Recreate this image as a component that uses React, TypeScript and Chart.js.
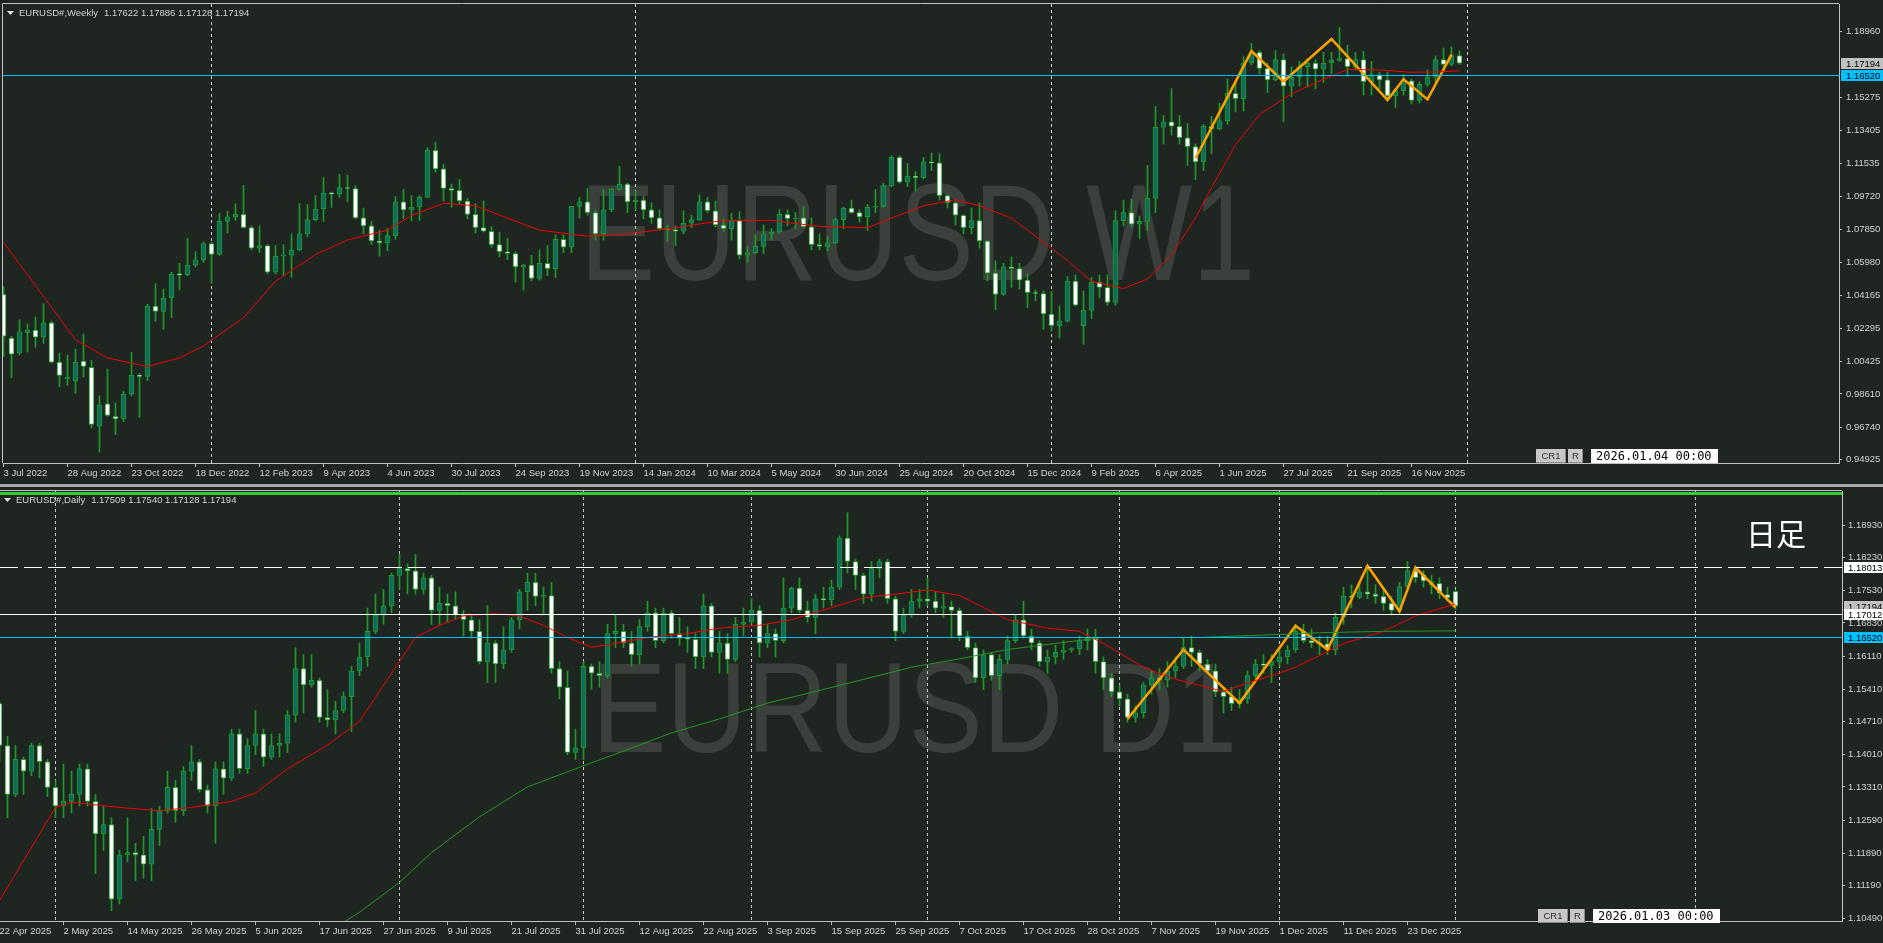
import { useEffect, useRef } from 'react';
import { Chart, registerables } from 'chart.js';

Chart.register(...registerables);

type OHLC = [number, number, number, number];
type Pt = [number, number];

// ================= WEEKLY (W1) : one candle per week, index 0 = 3 Jul 2022 =================
const weekly2022: OHLC[] = [
  [1.0420, 1.0463, 1.0072, 1.0185], [1.0175, 1.0185, 0.9952, 1.0085], [1.0090, 1.0278, 1.0080, 1.0210],
  [1.0205, 1.0255, 1.0096, 1.0220], [1.0220, 1.0294, 1.0123, 1.0180], [1.0180, 1.0368, 1.0145, 1.0260],
  [1.0260, 1.0270, 1.0035, 1.0040], [1.0040, 1.0090, 0.9900, 0.9965], [0.9945, 1.0080, 0.9910, 0.9955],
  [0.9935, 1.0113, 0.9865, 1.0040], [1.0045, 1.0198, 0.9956, 1.0015], [1.0010, 1.0050, 0.9670, 0.9690],
  [0.9680, 0.9850, 0.9535, 0.9800], [0.9805, 0.9999, 0.9735, 0.9740], [0.9735, 0.9810, 0.9632, 0.9720],
  [0.9720, 0.9875, 0.9705, 0.9860], [0.9860, 1.0094, 0.9850, 0.9965], [0.9965, 0.9976, 0.9730, 0.9960],
  [0.9960, 1.0365, 0.9935, 1.0355], [1.0355, 1.0480, 1.0270, 1.0325], [1.0325, 1.0450, 1.0225, 1.0400],
  [1.0400, 1.0545, 1.0290, 1.0535], [1.0535, 1.0595, 1.0445, 1.0530], [1.0530, 1.0735, 1.0525, 1.0585],
  [1.0585, 1.0660, 1.0575, 1.0615], [1.0615, 1.0715, 1.0600, 1.0705],
];
const weekly2023: OHLC[] = [
  [1.0705, 1.0713, 1.0483, 1.0645], [1.0645, 1.0875, 1.0640, 1.0830], [1.0830, 1.0887, 1.0765, 1.0855],
  [1.0855, 1.0929, 1.0835, 1.0870], [1.0870, 1.1033, 1.0793, 1.0795], [1.0795, 1.0805, 1.0670, 1.0680],
  [1.0680, 1.0805, 1.0655, 1.0695], [1.0695, 1.0700, 1.0535, 1.0545], [1.0545, 1.0695, 1.0535, 1.0635],
  [1.0635, 1.0700, 1.0525, 1.0640], [1.0640, 1.0760, 1.0515, 1.0670], [1.0670, 1.0930, 1.0665, 1.0760],
  [1.0760, 1.0925, 1.0745, 1.0840], [1.0840, 1.0975, 1.0835, 1.0900], [1.0900, 1.1075, 1.0830, 1.0990],
  [1.0990, 1.0995, 1.0910, 1.0985], [1.0985, 1.1095, 1.0965, 1.1020], [1.1020, 1.1090, 1.0940, 1.1015],
  [1.1015, 1.1030, 1.0845, 1.0850], [1.0850, 1.0905, 1.0760, 1.0805], [1.0805, 1.0830, 1.0700, 1.0720],
  [1.0720, 1.0780, 1.0635, 1.0710], [1.0710, 1.0790, 1.0665, 1.0750], [1.0750, 1.0970, 1.0730, 1.0940],
  [1.0940, 1.1010, 1.0845, 1.0895], [1.0895, 1.0975, 1.0835, 1.0910], [1.0910, 1.0975, 1.0835, 1.0965],
  [1.0965, 1.1245, 1.0965, 1.1230], [1.1230, 1.1275, 1.1105, 1.1125], [1.1125, 1.1150, 1.0945, 1.1015],
  [1.1015, 1.1040, 1.0910, 1.1005], [1.1005, 1.1065, 1.0925, 1.0945], [1.0945, 1.0960, 1.0845, 1.0870],
  [1.0870, 1.0930, 1.0765, 1.0795], [1.0795, 1.0945, 1.0770, 1.0775], [1.0775, 1.0800, 1.0685, 1.0700],
  [1.0700, 1.0770, 1.0630, 1.0660], [1.0660, 1.0735, 1.0615, 1.0650], [1.0650, 1.0660, 1.0490, 1.0575],
  [1.0575, 1.0590, 1.0445, 1.0585], [1.0585, 1.0640, 1.0495, 1.0510], [1.0510, 1.0670, 1.0500, 1.0595],
  [1.0595, 1.0695, 1.0525, 1.0565], [1.0565, 1.0755, 1.0515, 1.0730], [1.0730, 1.0755, 1.0655, 1.0685],
  [1.0685, 1.0915, 1.0655, 1.0915], [1.0915, 1.0965, 1.0850, 1.0940], [1.0940, 1.1015, 1.0865, 1.0880],
  [1.0880, 1.0895, 1.0725, 1.0760], [1.0760, 1.1010, 1.0725, 1.0895], [1.0895, 1.1015, 1.0885, 1.1010],
  [1.1010, 1.1140, 1.1005, 1.1040], [1.1040, 1.1045, 1.0880, 1.0940],
];
const weekly2024: OHLC[] = [
  [1.0940, 1.1000, 1.0895, 1.0950], [1.0950, 1.0970, 1.0845, 1.0895], [1.0895, 1.0935, 1.0820, 1.0850],
  [1.0850, 1.0895, 1.0780, 1.0790], [1.0790, 1.0810, 1.0720, 1.0785], [1.0785, 1.0805, 1.0695, 1.0775],
  [1.0775, 1.0890, 1.0760, 1.0820], [1.0820, 1.0865, 1.0795, 1.0840], [1.0840, 1.0980, 1.0835, 1.0940],
  [1.0940, 1.0965, 1.0880, 1.0890], [1.0890, 1.0945, 1.0800, 1.0810], [1.0810, 1.0845, 1.0775, 1.0790],
  [1.0790, 1.0875, 1.0725, 1.0835], [1.0835, 1.0885, 1.0620, 1.0640], [1.0640, 1.0690, 1.0600, 1.0655],
  [1.0655, 1.0755, 1.0650, 1.0690], [1.0690, 1.0810, 1.0650, 1.0760], [1.0760, 1.0790, 1.0725, 1.0770],
  [1.0770, 1.0895, 1.0765, 1.0870], [1.0870, 1.0895, 1.0805, 1.0845], [1.0845, 1.0880, 1.0790, 1.0850],
  [1.0850, 1.0915, 1.0795, 1.0800], [1.0800, 1.0850, 1.0670, 1.0700], [1.0700, 1.0760, 1.0670, 1.0690],
  [1.0690, 1.0745, 1.0665, 1.0710], [1.0710, 1.0845, 1.0705, 1.0840], [1.0840, 1.0910, 1.0790, 1.0905],
  [1.0905, 1.0950, 1.0875, 1.0880], [1.0880, 1.0895, 1.0825, 1.0855], [1.0855, 1.0925, 1.0780, 1.0910],
  [1.0910, 1.1010, 1.0880, 1.0915], [1.0915, 1.1045, 1.0910, 1.1030], [1.1030, 1.1200, 1.1025, 1.1190],
  [1.1190, 1.1200, 1.1045, 1.1050], [1.1050, 1.1155, 1.1025, 1.1085], [1.1085, 1.1110, 1.1000, 1.1075],
  [1.1075, 1.1190, 1.1070, 1.1165], [1.1165, 1.1215, 1.1115, 1.1160], [1.1160, 1.1210, 1.0950, 1.0975],
  [1.0975, 1.0980, 1.0905, 1.0935], [1.0935, 1.0940, 1.0810, 1.0865], [1.0865, 1.0870, 1.0760, 1.0795],
  [1.0795, 1.0905, 1.0760, 1.0835], [1.0835, 1.0935, 1.0680, 1.0720], [1.0720, 1.0725, 1.0495, 1.0540],
  [1.0540, 1.0610, 1.0335, 1.0420], [1.0420, 1.0595, 1.0415, 1.0575], [1.0575, 1.0630, 1.0460, 1.0565],
  [1.0565, 1.0595, 1.0450, 1.0500], [1.0500, 1.0535, 1.0345, 1.0430], [1.0430, 1.0445, 1.0385, 1.0425],
  [1.0425, 1.0440, 1.0225, 1.0310],
];
const weekly2025: OHLC[] = [
  [1.0310, 1.0435, 1.0215, 1.0245], [1.0245, 1.0355, 1.0175, 1.0270], [1.0270, 1.0520, 1.0265, 1.0495],
  [1.0495, 1.0530, 1.0355, 1.0360], [1.0245, 1.0440, 1.0140, 1.0330], [1.0330, 1.0515, 1.0285, 1.0490],
  [1.0490, 1.0530, 1.0400, 1.0460], [1.0460, 1.0530, 1.0360, 1.0375], [1.0375, 1.0890, 1.0360, 1.0835],
  [1.0835, 1.0950, 1.0805, 1.0880], [1.0880, 1.0955, 1.0800, 1.0815], [1.0815, 1.0860, 1.0735, 1.0830],
  [1.0830, 1.1145, 1.0780, 1.0960], [1.0960, 1.1475, 1.0880, 1.1360], [1.1360, 1.1425, 1.1265, 1.1390],
  [1.1390, 1.1575, 1.1315, 1.1365], [1.1365, 1.1425, 1.1265, 1.1300], [1.1300, 1.1380, 1.1145, 1.1250],
  [1.1250, 1.1265, 1.1065, 1.1165], [1.1165, 1.1375, 1.1115, 1.1365], [1.1365, 1.1420, 1.1210, 1.1350],
  [1.1350, 1.1495, 1.1345, 1.1395], [1.1395, 1.1630, 1.1375, 1.1550], [1.1550, 1.1615, 1.1445, 1.1520],
  [1.1520, 1.1755, 1.1450, 1.1720], [1.1720, 1.1830, 1.1710, 1.1780], [1.1780, 1.1790, 1.1660, 1.1690],
  [1.1690, 1.1720, 1.1555, 1.1625], [1.1625, 1.1790, 1.1620, 1.1740], [1.1740, 1.1770, 1.1390, 1.1590],
  [1.1590, 1.1700, 1.1530, 1.1640], [1.1640, 1.1730, 1.1590, 1.1700], [1.1700, 1.1745, 1.1585, 1.1720],
  [1.1720, 1.1740, 1.1575, 1.1685], [1.1685, 1.1780, 1.1610, 1.1720], [1.1720, 1.1780, 1.1660, 1.1735],
  [1.1735, 1.1920, 1.1730, 1.1745], [1.1745, 1.1820, 1.1645, 1.1700], [1.1700, 1.1780, 1.1680, 1.1740],
  [1.1740, 1.1785, 1.1540, 1.1615], [1.1615, 1.1730, 1.1540, 1.1655], [1.1655, 1.1670, 1.1575, 1.1625],
  [1.1625, 1.1670, 1.1525, 1.1535], [1.1535, 1.1570, 1.1470, 1.1565], [1.1565, 1.1655, 1.1540, 1.1620],
  [1.1620, 1.1630, 1.1490, 1.1510], [1.1510, 1.1615, 1.1495, 1.1600], [1.1600, 1.1680, 1.1590, 1.1640],
  [1.1640, 1.1760, 1.1615, 1.1740], [1.1740, 1.1805, 1.1700, 1.1712], [1.1712, 1.1812, 1.1705, 1.1762],
  [1.17622, 1.17886, 1.17128, 1.17194],
];
const weeklyTickLabels = [
  '3 Jul 2022', '28 Aug 2022', '23 Oct 2022', '18 Dec 2022', '12 Feb 2023', '9 Apr 2023', '4 Jun 2023',
  '30 Jul 2023', '24 Sep 2023', '19 Nov 2023', '14 Jan 2024', '10 Mar 2024', '5 May 2024', '30 Jun 2024',
  '25 Aug 2024', '20 Oct 2024', '15 Dec 2024', '9 Feb 2025', '6 Apr 2025', '1 Jun 2025', '27 Jul 2025',
  '21 Sep 2025', '16 Nov 2025',
];
const weeklyYTicks = [0.94925, 0.96740, 0.98610, 1.00425, 1.02295, 1.04165, 1.05980, 1.07850, 1.09720,
  1.11535, 1.13405, 1.15275, 1.18960];
const weeklySeparators = [26, 79, 131, 183];
const weeklyMA: Pt[] = [
  [0, 1.0713], [9, 1.0165], [13, 1.0063], [18, 1.0015], [22, 1.0063], [25, 1.0131], [30, 1.0289],
  [34, 1.0494], [39, 1.0644], [43, 1.0726], [48, 1.0781], [51, 1.0863], [55, 1.0932], [59, 1.0918],
  [63, 1.0849], [67, 1.0781], [73, 1.0747], [78, 1.0760], [84, 1.0795], [90, 1.0836], [96, 1.0836],
  [102, 1.0802], [108, 1.0795], [111, 1.0849], [115, 1.0918], [119, 1.0952], [122, 1.0918], [126, 1.0849],
  [129, 1.0747], [133, 1.0610], [136, 1.0494], [140, 1.0453], [143, 1.0507], [146, 1.0644], [149, 1.0849],
  [151, 1.1020], [154, 1.1260], [157, 1.1431], [161, 1.1547], [165, 1.1629], [168, 1.1684], [172, 1.1681],
  [176, 1.1668], [179, 1.1670], [182, 1.1676],
];
const weeklyZigzag: Pt[] = [
  [149, 1.1185], [156, 1.1787], [160, 1.1616], [166, 1.1855], [173, 1.1512], [175, 1.1629],
  [178, 1.1516], [181, 1.1767],
];
const weeklyHeaderName = 'EURUSD#,Weekly';
const weeklyHeaderOHLC = '1.17622 1.17886 1.17128 1.17194';

// ================= DAILY (D1) : index 0 = 2 May 2025 =================
const dailyApr: OHLC[] = [
  [1.1510, 1.1515, 1.1385, 1.1420], [1.1420, 1.1440, 1.1265, 1.1315], [1.1315, 1.1420, 1.1310, 1.1390],
  [1.1390, 1.1395, 1.1315, 1.1365], [1.1365, 1.1425, 1.1355, 1.1420], [1.1420, 1.1425, 1.1350, 1.1385],
  [1.1385, 1.1390, 1.1310, 1.1330],
];
const dailyMay: OHLC[] = [
  [1.1330, 1.1345, 1.1265, 1.1290], [1.1290, 1.1380, 1.1265, 1.1300], [1.1300, 1.1365, 1.1275, 1.1315],
  [1.1315, 1.1380, 1.1290, 1.1370], [1.1370, 1.1380, 1.1290, 1.1300], [1.1300, 1.1315, 1.1145, 1.1230],
  [1.1230, 1.1290, 1.1195, 1.1250], [1.1250, 1.1265, 1.1065, 1.1090], [1.1090, 1.1195, 1.1080, 1.1185],
  [1.1185, 1.1265, 1.1170, 1.1190], [1.1190, 1.1210, 1.1130, 1.1185], [1.1185, 1.1225, 1.1135, 1.1165],
  [1.1165, 1.1285, 1.1130, 1.1240], [1.1240, 1.1290, 1.1205, 1.1280], [1.1280, 1.1365, 1.1275, 1.1330],
  [1.1330, 1.1345, 1.1255, 1.1280], [1.1280, 1.1375, 1.1270, 1.1365], [1.1365, 1.1420, 1.1345, 1.1385],
  [1.1385, 1.1390, 1.1320, 1.1325], [1.1325, 1.1335, 1.1275, 1.1290], [1.1290, 1.1385, 1.1210, 1.1370],
  [1.1370, 1.1385, 1.1315, 1.1350],
];
const dailyJun: OHLC[] = [
  [1.1350, 1.1455, 1.1345, 1.1445], [1.1445, 1.1455, 1.1360, 1.1370], [1.1370, 1.1435, 1.1360, 1.1420],
  [1.1420, 1.1495, 1.1400, 1.1445], [1.1445, 1.1455, 1.1375, 1.1395], [1.1395, 1.1445, 1.1390, 1.1420],
  [1.1420, 1.1445, 1.1395, 1.1425], [1.1425, 1.1495, 1.1405, 1.1485], [1.1485, 1.1630, 1.1470, 1.1585],
  [1.1585, 1.1615, 1.1490, 1.1550], [1.1550, 1.1615, 1.1545, 1.1560], [1.1560, 1.1565, 1.1470, 1.1480],
  [1.1480, 1.1540, 1.1460, 1.1475], [1.1475, 1.1515, 1.1445, 1.1495], [1.1495, 1.1535, 1.1490, 1.1525],
  [1.1525, 1.1590, 1.1450, 1.1580], [1.1580, 1.1640, 1.1570, 1.1610], [1.1610, 1.1715, 1.1590, 1.1665],
  [1.1665, 1.1745, 1.1660, 1.1700], [1.1700, 1.1755, 1.1680, 1.1720], [1.1720, 1.1790, 1.1705, 1.1785],
];
const dailyJul: OHLC[] = [
  [1.1785, 1.1830, 1.1755, 1.1800], [1.1800, 1.1810, 1.1745, 1.1795], [1.1795, 1.1830, 1.1745, 1.1755],
  [1.1755, 1.1790, 1.1745, 1.1780], [1.1780, 1.1785, 1.1680, 1.1710], [1.1710, 1.1760, 1.1680, 1.1725],
  [1.1725, 1.1745, 1.1685, 1.1720], [1.1720, 1.1750, 1.1690, 1.1700], [1.1700, 1.1710, 1.1655, 1.1690],
  [1.1690, 1.1700, 1.1650, 1.1665], [1.1665, 1.1690, 1.1595, 1.1600], [1.1600, 1.1720, 1.1555, 1.1640],
  [1.1640, 1.1645, 1.1555, 1.1595], [1.1595, 1.1675, 1.1585, 1.1625], [1.1625, 1.1695, 1.1620, 1.1690],
  [1.1690, 1.1755, 1.1670, 1.1750], [1.1750, 1.1790, 1.1710, 1.1770], [1.1770, 1.1790, 1.1720, 1.1740],
  [1.1740, 1.1760, 1.1700, 1.1742], [1.1742, 1.1770, 1.1575, 1.1585], [1.1585, 1.1600, 1.1520, 1.1545],
  [1.1545, 1.1580, 1.1400, 1.1405], [1.1405, 1.1455, 1.1390, 1.1415],
];
const dailyAug: OHLC[] = [
  [1.1415, 1.1600, 1.1390, 1.1590], [1.1590, 1.1595, 1.1540, 1.1575], [1.1575, 1.1600, 1.1545, 1.1570],
  [1.1570, 1.1680, 1.1565, 1.1660], [1.1660, 1.1700, 1.1630, 1.1665], [1.1665, 1.1680, 1.1630, 1.1640],
  [1.1640, 1.1665, 1.1590, 1.1615], [1.1615, 1.1690, 1.1595, 1.1675], [1.1675, 1.1730, 1.1665, 1.1705],
  [1.1705, 1.1715, 1.1630, 1.1645], [1.1645, 1.1715, 1.1640, 1.1705], [1.1705, 1.1710, 1.1650, 1.1660],
  [1.1660, 1.1695, 1.1635, 1.1650], [1.1650, 1.1675, 1.1620, 1.1648], [1.1648, 1.1660, 1.1585, 1.1610],
  [1.1610, 1.1745, 1.1585, 1.1720], [1.1720, 1.1725, 1.1610, 1.1620], [1.1620, 1.1665, 1.1575, 1.1640],
  [1.1640, 1.1660, 1.1575, 1.1605], [1.1605, 1.1695, 1.1600, 1.1680], [1.1680, 1.1715, 1.1655, 1.1685],
];
const dailySep: OHLC[] = [
  [1.1685, 1.1735, 1.1680, 1.1710], [1.1710, 1.1720, 1.1610, 1.1640], [1.1640, 1.1680, 1.1630, 1.1660],
  [1.1660, 1.1670, 1.1610, 1.1645], [1.1645, 1.1780, 1.1640, 1.1715], [1.1715, 1.1760, 1.1705, 1.1758],
  [1.1758, 1.1780, 1.1705, 1.1710], [1.1710, 1.1730, 1.1685, 1.1695], [1.1695, 1.1745, 1.1660, 1.1735],
  [1.1735, 1.1760, 1.1715, 1.1733], [1.1733, 1.1775, 1.1720, 1.1760], [1.1760, 1.1870, 1.1755, 1.1865],
  [1.1865, 1.1920, 1.1790, 1.1815], [1.1815, 1.1820, 1.1755, 1.1785], [1.1785, 1.1790, 1.1725, 1.1745],
  [1.1745, 1.1815, 1.1730, 1.1800], [1.1800, 1.1820, 1.1780, 1.1815], [1.1815, 1.1820, 1.1725, 1.1735],
  [1.1735, 1.1740, 1.1645, 1.1665], [1.1665, 1.1715, 1.1660, 1.1700], [1.1700, 1.1755, 1.1695, 1.1730],
  [1.1730, 1.1755, 1.1715, 1.1735],
];
const dailyOct: OHLC[] = [
  [1.1735, 1.1780, 1.1720, 1.1730], [1.1730, 1.1750, 1.1705, 1.1715], [1.1715, 1.1745, 1.1695, 1.1718],
  [1.1718, 1.1730, 1.1650, 1.1710], [1.1710, 1.1715, 1.1645, 1.1655], [1.1655, 1.1665, 1.1625, 1.1630],
  [1.1630, 1.1640, 1.1555, 1.1565], [1.1565, 1.1625, 1.1540, 1.1615], [1.1615, 1.1620, 1.1560, 1.1570],
  [1.1570, 1.1615, 1.1540, 1.1605], [1.1605, 1.1655, 1.1595, 1.1645], [1.1645, 1.1700, 1.1640, 1.1690],
  [1.1690, 1.1730, 1.1650, 1.1655], [1.1655, 1.1670, 1.1625, 1.1640], [1.1640, 1.1645, 1.1590, 1.1600],
  [1.1600, 1.1625, 1.1575, 1.1610], [1.1610, 1.1635, 1.1595, 1.1620], [1.1620, 1.1645, 1.1605, 1.1625],
  [1.1625, 1.1630, 1.1620, 1.1628], [1.1628, 1.1655, 1.1615, 1.1645], [1.1645, 1.1670, 1.1625, 1.1650],
  [1.1650, 1.1670, 1.1575, 1.1600], [1.1600, 1.1610, 1.1540, 1.1565], [1.1565, 1.1575, 1.1525, 1.1535],
];
const dailyNov: OHLC[] = [
  [1.1535, 1.1550, 1.1505, 1.1520], [1.1520, 1.1530, 1.1470, 1.1480], [1.1480, 1.1505, 1.1470, 1.1490],
  [1.1490, 1.1555, 1.1480, 1.1550], [1.1550, 1.1580, 1.1530, 1.1565], [1.1565, 1.1585, 1.1540, 1.1560],
  [1.1560, 1.1600, 1.1545, 1.1580], [1.1580, 1.1610, 1.1565, 1.1590], [1.1590, 1.1650, 1.1585, 1.1630],
  [1.1630, 1.1655, 1.1590, 1.1620], [1.1620, 1.1625, 1.1580, 1.1595], [1.1595, 1.1605, 1.1575, 1.1580],
  [1.1580, 1.1595, 1.1525, 1.1535], [1.1535, 1.1545, 1.1490, 1.1525], [1.1525, 1.1545, 1.1495, 1.1510],
  [1.1510, 1.1540, 1.1500, 1.1520], [1.1520, 1.1580, 1.1510, 1.1570], [1.1570, 1.1605, 1.1565, 1.1595],
  [1.1595, 1.1615, 1.1575, 1.1592], [1.1592, 1.1615, 1.1555, 1.1600],
];
const dailyDec: OHLC[] = [
  [1.1600, 1.1630, 1.1590, 1.1610], [1.1610, 1.1635, 1.1595, 1.1625], [1.1625, 1.1680, 1.1620, 1.1665],
  [1.1665, 1.1680, 1.1640, 1.1645], [1.1645, 1.1670, 1.1630, 1.1640], [1.1640, 1.1655, 1.1615, 1.1638],
  [1.1638, 1.1655, 1.1615, 1.1625], [1.1625, 1.1705, 1.1615, 1.1695], [1.1695, 1.1760, 1.1680, 1.1740],
  [1.1740, 1.1765, 1.1715, 1.1738], [1.1738, 1.1770, 1.1735, 1.1750], [1.1750, 1.1805, 1.1735, 1.1745],
  [1.1745, 1.1765, 1.1725, 1.1740], [1.1740, 1.1760, 1.1710, 1.1725], [1.1725, 1.1740, 1.1700, 1.1710],
  [1.1710, 1.1770, 1.1705, 1.1761], [1.1761, 1.1815, 1.1750, 1.1795], [1.1795, 1.1805, 1.1770, 1.1780],
  [1.1787, 1.1795, 1.1760, 1.1773], [1.1764, 1.1785, 1.1745, 1.1772], [1.1768, 1.1780, 1.1735, 1.1747],
  [1.1744, 1.1760, 1.1730, 1.1737],
];
const dailyJan: OHLC[] = [[1.17509, 1.17540, 1.17128, 1.17194]];
const dailyTickLabels = [
  '22 Apr 2025', '2 May 2025', '14 May 2025', '26 May 2025', '5 Jun 2025', '17 Jun 2025', '27 Jun 2025',
  '9 Jul 2025', '21 Jul 2025', '31 Jul 2025', '12 Aug 2025', '22 Aug 2025', '3 Sep 2025', '15 Sep 2025',
  '25 Sep 2025', '7 Oct 2025', '17 Oct 2025', '28 Oct 2025', '7 Nov 2025', '19 Nov 2025', '1 Dec 2025',
  '11 Dec 2025', '23 Dec 2025',
];
const dailyYTicks = [1.10490, 1.11190, 1.11890, 1.12590, 1.13310, 1.14010, 1.14710, 1.15410, 1.16110,
  1.16830, 1.17530, 1.18230, 1.18930];
const dailySeparators = [-1, 42, 65, 86, 108, 132, 152, 174, 204];
const dailyRedMA: Pt[] = [
  [-8, 1.1087], [-1, 1.1287], [1, 1.1298], [7, 1.1287], [12, 1.1280], [16, 1.1287], [21, 1.1300],
  [24, 1.1318], [28, 1.1370], [33, 1.1421], [37, 1.1472], [41, 1.1575], [44, 1.1652], [47, 1.1678],
  [50, 1.1698], [54, 1.1703], [57, 1.1698], [60, 1.1678], [63, 1.1652], [66, 1.1631], [69, 1.1639],
  [73, 1.1652], [78, 1.1660], [82, 1.1672], [87, 1.1678], [91, 1.1690], [96, 1.1716], [100, 1.1737],
  [105, 1.1747], [108, 1.1754], [112, 1.1742], [115, 1.1716], [118, 1.1690], [123, 1.1672], [127, 1.1665],
  [130, 1.1639], [135, 1.1588], [139, 1.1562], [142, 1.1549], [145, 1.1536], [148, 1.1554], [151, 1.1570],
  [154, 1.1588], [157, 1.1613], [160, 1.1639], [165, 1.1665], [169, 1.1698], [174, 1.1724],
];
const dailyGreenMA: Pt[] = [
  [31, 1.0997], [37, 1.1062], [42, 1.1126], [46, 1.1190], [52, 1.1267], [58, 1.1331], [64, 1.1370],
  [70, 1.1408], [76, 1.1447], [82, 1.1477], [88, 1.1511], [94, 1.1536], [100, 1.1562], [106, 1.1588],
  [112, 1.1606], [118, 1.1626], [124, 1.1639], [130, 1.1652], [136, 1.1652], [142, 1.1652], [150, 1.1657],
  [157, 1.1662], [165, 1.1665], [174, 1.1666],
];
const dailyZigzag: Pt[] = [
  [133, 1.1477], [140, 1.1626], [147, 1.1511], [154, 1.1677], [158, 1.1626], [163, 1.1806],
  [167, 1.1708], [169, 1.1802], [174, 1.1716],
];
const dailyHeaderName = 'EURUSD#,Daily';
const dailyHeaderOHLC = '1.17509 1.17540 1.17128 1.17194';

// levels
const currentPrice = 1.17194;
const blueLevel = 1.16520;
const dashedLevel = 1.18013;
const whiteLevel = 1.17012;

// ================= styling =================
const BG = '#1f2622';
const AXIS = '#c0c0c0';
const TEXT = '#d2d2d2';
const BULL_FILL = '#0f6c5a';
const BEAR_FILL = '#ffffff';
const CANDLE_LINE = '#1f9a2a';
const FONT = "'Liberation Sans', Arial, sans-serif";
const FS = 9.5;
const WM_COLOR = '#3b403d';

interface Box { value: number; text: string; bg: string; fg: string }
interface HLine { value: number; color: string; dash?: number[] }
interface PanelCfg {
  width: number; height: number; padLeft: number; padTop: number;
  yAxisWidth: number; xAxisHeight: number; yPad: number;
  xMin: number; xMax: number; yMin: number; yMax: number;
  candles: OHLC[]; first: number; bodyWidth: number;
  yTicks: number[]; xTickStart: number; xTickLabels: string[];
  lines: { data: Pt[]; color: string; width: number }[];
  separators: number[];
  wm: { text: string; x0: number; x1: number; base: number; size: number };
  headerName: string; headerOHLC: string;
  hlines: HLine[]; boxes: Box[];
  dateText: string; dateTop: number; crLeft: number;
  topBand?: boolean; label?: { text: string; x: number; y: number };
}

function makePlugin(cfg: PanelCfg) {
  return {
    id: 'mt4panel',
    beforeDraw(chart: any) {
      const ctx = chart.ctx;
      ctx.save();
      ctx.fillStyle = BG;
      ctx.fillRect(0, 0, chart.width, chart.height);
      ctx.restore();
    },
    beforeDatasetsDraw(chart: any) {
      const ctx = chart.ctx;
      const a = chart.chartArea;
      const xs = chart.scales.x;
      ctx.save();
      ctx.beginPath();
      ctx.rect(a.left, a.top, a.right - a.left, a.bottom - a.top);
      ctx.clip();
      // watermark
      ctx.font = `${cfg.wm.size}px ${FONT}`;
      const m = ctx.measureText(cfg.wm.text).width;
      ctx.save();
      ctx.translate(cfg.wm.x0, cfg.wm.base);
      ctx.scale((cfg.wm.x1 - cfg.wm.x0) / m, 1);
      ctx.fillStyle = WM_COLOR;
      ctx.textBaseline = 'alphabetic';
      ctx.fillText(cfg.wm.text, 0, 0);
      ctx.restore();
      // period separators
      ctx.strokeStyle = '#c8c8c8';
      ctx.lineWidth = 1;
      ctx.setLineDash([3, 3]);
      for (const s of cfg.separators) {
        const px = Math.round(xs.getPixelForValue(s) - 0.5) + 0.5;
        ctx.beginPath();
        ctx.moveTo(px, a.top);
        ctx.lineTo(px, a.bottom);
        ctx.stroke();
      }
      ctx.restore();
    },
    afterDatasetsDraw(chart: any) {
      const ctx = chart.ctx;
      const a = chart.chartArea;
      const ys = chart.scales.y;
      ctx.save();
      for (const h of cfg.hlines) {
        const py = Math.round(ys.getPixelForValue(h.value) - 0.5) + 0.5;
        ctx.strokeStyle = h.color;
        ctx.lineWidth = 1;
        ctx.setLineDash(h.dash || []);
        ctx.beginPath();
        ctx.moveTo(a.left, py);
        ctx.lineTo(a.right, py);
        ctx.stroke();
      }
      ctx.restore();
    },
    afterDraw(chart: any) {
      const ctx = chart.ctx;
      const a = chart.chartArea;
      const ys = chart.scales.y;
      ctx.save();
      ctx.strokeStyle = AXIS;
      ctx.lineWidth = 1;
      ctx.beginPath();
      ctx.moveTo(a.left - 0.5, a.bottom);
      ctx.lineTo(a.left - 0.5, a.top - 0.5);
      ctx.lineTo(a.right, a.top - 0.5);
      ctx.stroke();
      if (cfg.topBand) {
        ctx.fillStyle = '#32cd32';
        ctx.fillRect(0, a.top + 1, a.right, 3);
      }
      // header
      ctx.fillStyle = '#e0e0e0';
      ctx.beginPath();
      ctx.moveTo(a.left + 4, a.top + 7);
      ctx.lineTo(a.left + 11, a.top + 7);
      ctx.lineTo(a.left + 7.5, a.top + 11);
      ctx.closePath();
      ctx.fill();
      ctx.font = `${FS}px ${FONT}`;
      ctx.textBaseline = 'middle';
      ctx.fillStyle = TEXT;
      ctx.fillText(cfg.headerName, a.left + 16, a.top + 9);
      const w = ctx.measureText(cfg.headerName).width;
      ctx.fillText(cfg.headerOHLC, a.left + 16 + w + 6, a.top + 9);
      // price boxes
      for (const b of cfg.boxes) {
        const py = ys.getPixelForValue(b.value);
        ctx.fillStyle = b.bg;
        ctx.fillRect(a.right + 2, Math.round(py - 5.5), chart.width - a.right - 2, 11);
        ctx.fillStyle = b.fg;
        ctx.font = `${FS}px ${FONT}`;
        ctx.textBaseline = 'middle';
        ctx.fillText(b.text, a.right + cfg.yPad + 3, Math.round(py - 5.5) + 6);
      }
      // CR1 / R buttons and date box
      const t = cfg.dateTop;
      const x = cfg.crLeft;
      ctx.fillStyle = '#c8c8c8';
      ctx.fillRect(x, t, 30, 14);
      ctx.fillRect(x + 32, t, 15, 14);
      ctx.fillStyle = '#8a8a8a';
      ctx.fillRect(x, t + 13, 30, 1);
      ctx.fillRect(x + 29, t, 1, 14);
      ctx.fillRect(x + 32, t + 13, 15, 1);
      ctx.fillRect(x + 46, t, 1, 14);
      ctx.fillStyle = '#303030';
      ctx.font = `${FS}px ${FONT}`;
      ctx.textAlign = 'center';
      ctx.fillText('CR1', x + 15, t + 7.5);
      ctx.fillText('R', x + 39.5, t + 7.5);
      ctx.fillStyle = '#ffffff';
      ctx.fillRect(x + 55, t, 127, 14);
      ctx.fillStyle = '#000000';
      ctx.textAlign = 'left';
      ctx.font = `12px 'DejaVu Sans Mono', 'Liberation Mono', monospace`;
      ctx.fillText(cfg.dateText, x + 60, t + 7.5);
      if (cfg.label) {
        ctx.fillStyle = '#ffffff';
        ctx.font = `30px 'Noto Sans CJK JP', sans-serif`;
        ctx.textAlign = 'center';
        ctx.fillText(cfg.label.text, cfg.label.x, cfg.label.y);
      }
      ctx.restore();
    },
  };
}

function buildChart(canvas: HTMLCanvasElement, cfg: PanelCfg) {
  const wicks = cfg.candles.map((c, k) => ({ x: cfg.first + k, y: [c[2], c[1]] }));
  const bodies = cfg.candles.map((c, k) => ({ x: cfg.first + k, y: [Math.min(c[0], c[3]), Math.max(c[0], c[3])] }));
  const bodyColors = cfg.candles.map((c) => (c[3] >= c[0] ? BULL_FILL : BEAR_FILL));
  const lineSets = cfg.lines.map((l, k) => ({
    type: 'line',
    data: l.data.map((p) => ({ x: p[0], y: p[1] })),
    borderColor: l.color,
    borderWidth: l.width,
    pointRadius: 0,
    tension: 0,
    order: -k,
    clip: 0,
  }));
  const tickIdx = cfg.xTickLabels.map((_, k) => cfg.xTickStart + k * 8);
  return new Chart(canvas, {
    type: 'bar',
    data: {
      datasets: [
        {
          type: 'bar', data: wicks as any, backgroundColor: CANDLE_LINE, barThickness: 1,
          grouped: false, order: 10, clip: 0,
        } as any,
        {
          type: 'bar', data: bodies as any, backgroundColor: bodyColors, borderColor: CANDLE_LINE,
          borderWidth: 1, borderSkipped: false, barThickness: cfg.bodyWidth, minBarLength: 1,
          grouped: false, order: 5, clip: 0,
        } as any,
        ...(lineSets as any[]),
      ],
    },
    options: {
      animation: false,
      responsive: false,
      devicePixelRatio: 1,
      events: [],
      layout: { padding: { left: cfg.padLeft, top: cfg.padTop, right: 0, bottom: 0 } },
      plugins: { legend: { display: false }, tooltip: { enabled: false } },
      scales: {
        x: {
          type: 'linear', min: cfg.xMin, max: cfg.xMax, offset: false, bounds: 'data',
          afterBuildTicks: (s: any) => { s.ticks = tickIdx.map((v) => ({ value: v })); },
          afterFit: (s: any) => { s.height = cfg.xAxisHeight; s.paddingLeft = 0; s.paddingRight = 0; },
          ticks: {
            autoSkip: false, maxRotation: 0, minRotation: 0, align: 'start', padding: 1,
            color: TEXT, font: { family: FONT, size: FS },
            callback: (_v: any, i: number) => cfg.xTickLabels[i],
          },
          grid: { drawOnChartArea: false, drawTicks: true, tickLength: 4, color: AXIS, offset: false },
          border: { display: true, color: AXIS },
        },
        y: {
          type: 'linear', position: 'right', min: cfg.yMin, max: cfg.yMax, bounds: 'data',
          afterBuildTicks: (s: any) => { s.ticks = cfg.yTicks.map((v) => ({ value: v })); },
          afterFit: (s: any) => { s.width = cfg.yAxisWidth; s.paddingTop = 0; s.paddingBottom = 0; },
          ticks: {
            autoSkip: false, padding: cfg.yPad, color: TEXT, font: { family: FONT, size: FS },
            callback: (v: any) => Number(v).toFixed(5),
          },
          grid: { drawOnChartArea: false, drawTicks: true, tickLength: 3, color: AXIS },
          border: { display: true, color: AXIS },
        },
      } as any,
    },
    plugins: [makePlugin(cfg) as any],
  });
}

const weeklyCandles = [...weekly2022, ...weekly2023, ...weekly2024, ...weekly2025];
const dailyCandles = [...dailyApr, ...dailyMay, ...dailyJun, ...dailyJul, ...dailyAug, ...dailySep,
  ...dailyOct, ...dailyNov, ...dailyDec, ...dailyJan];

const fmt = (v: number) => v.toFixed(5);

export default function App() {
  const topRef = useRef<HTMLCanvasElement>(null);
  const botRef = useRef<HTMLCanvasElement>(null);
  useEffect(() => {
    document.body.style.margin = '0';
    document.body.style.background = BG;
    const top = buildChart(topRef.current!, {
      width: 1883, height: 485, padLeft: 3, padTop: 4, yAxisWidth: 44, xAxisHeight: 22, yPad: 4,
      xMin: -0.0625, xMax: 229.4375, yMin: 0.94730, yMax: 1.20516,
      candles: weeklyCandles, first: 0, bodyWidth: 5,
      yTicks: weeklyYTicks, xTickStart: 0, xTickLabels: weeklyTickLabels,
      lines: [
        { data: weeklyZigzag, color: '#ffa200', width: 2.5 },
        { data: weeklyMA, color: '#f00000', width: 1 },
      ],
      separators: weeklySeparators,
      wm: { text: 'EURUSD W1', x0: 580, x1: 1255, base: 280, size: 138 },
      headerName: weeklyHeaderName, headerOHLC: weeklyHeaderOHLC,
      hlines: [{ value: blueLevel, color: '#00bfff' }],
      boxes: [
        { value: currentPrice, text: fmt(currentPrice), bg: '#c0c0c0', fg: '#000000' },
        { value: blueLevel, text: fmt(blueLevel), bg: '#00bfff', fg: '#000000' },
      ],
      dateText: '2026.01.04 00:00', dateTop: 449, crLeft: 1536,
    });
    const bot = buildChart(botRef.current!, {
      width: 1883, height: 458, padLeft: 0, padTop: 4, yAxisWidth: 41, xAxisHeight: 22, yPad: 3,
      xMin: -7.9375, xMax: 222.3125, yMin: 1.10432, yMax: 1.19663,
      candles: dailyCandles, first: -8, bodyWidth: 5,
      yTicks: dailyYTicks, xTickStart: -8, xTickLabels: dailyTickLabels,
      lines: [
        { data: dailyZigzag, color: '#ffa200', width: 2.5 },
        { data: dailyRedMA, color: '#f00000', width: 1 },
        { data: dailyGreenMA, color: '#259425', width: 1 },
      ],
      separators: dailySeparators,
      wm: { text: 'EURUSD D1', x0: 592, x1: 1237, base: 265, size: 128 },
      headerName: dailyHeaderName, headerOHLC: dailyHeaderOHLC,
      hlines: [
        { value: dashedLevel, color: '#ffffff', dash: [18, 6] },
        { value: whiteLevel, color: '#ffffff' },
        { value: blueLevel, color: '#00bfff' },
      ],
      boxes: [
        { value: dashedLevel, text: fmt(dashedLevel), bg: '#ffffff', fg: '#000000' },
        { value: currentPrice, text: fmt(currentPrice), bg: '#c0c0c0', fg: '#000000' },
        { value: whiteLevel, text: fmt(whiteLevel), bg: '#ffffff', fg: '#000000' },
        { value: blueLevel, text: fmt(blueLevel), bg: '#00bfff', fg: '#000000' },
      ],
      dateText: '2026.01.03 00:00', dateTop: 422, crLeft: 1538,
      topBand: true, label: { text: '日足', x: 1776, y: 47 },
    });
    return () => { top.destroy(); bot.destroy(); };
  }, []);
  return (
    <div style={{ position: 'fixed', left: 0, top: 0, width: 1883, height: 943, background: BG, overflow: 'hidden' }}>
      <div style={{ position: 'absolute', left: 0, top: 0, width: 1883, height: 1, background: '#9a9a9a' }} />
      <canvas ref={topRef} width={1883} height={485} style={{ position: 'absolute', left: 0, top: 0 }} />
      <div style={{ position: 'absolute', left: 0, top: 484, width: 1883, height: 3, background: '#a8a8a8' }} />
      <canvas ref={botRef} width={1883} height={456} style={{ position: 'absolute', left: 0, top: 487 }} />
    </div>
  );
}
